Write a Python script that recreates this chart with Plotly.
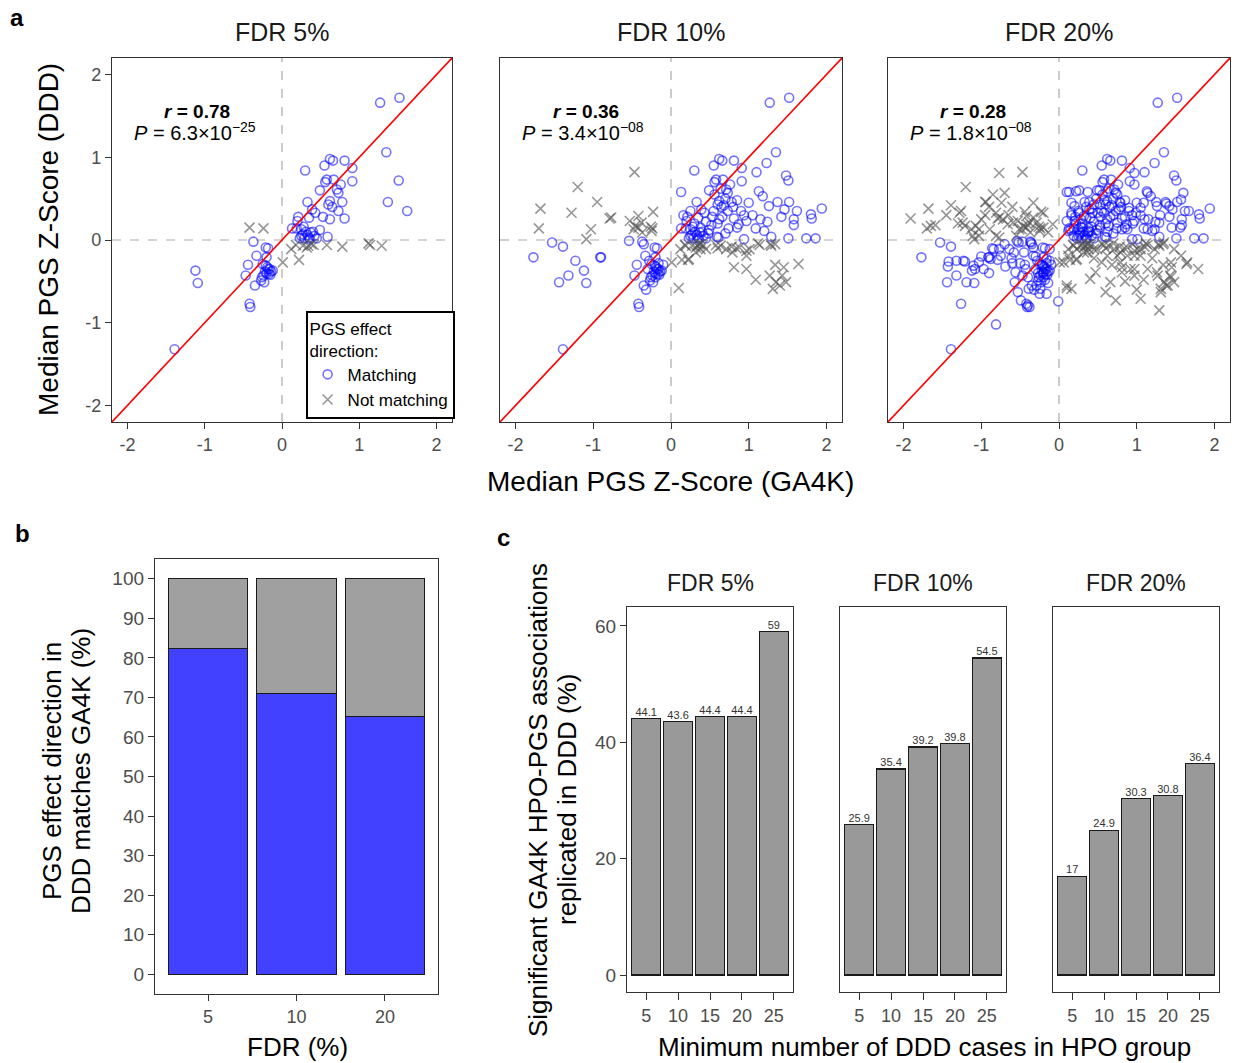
import plotly.graph_objects as go

# ---------------- DATA ----------------
FDR_LABELS = ["FDR 5%", "FDR 10%", "FDR 20%"]
R_VALUES = ["0.78", "0.36", "0.28"]
P_MANTISSA = ["6.3", "3.4", "1.8"]
P_EXPONENT = ["−25", "−08", "−08"]

# (GA4K median Z, DDD median Z) -- associations significant at FDR 5%
MATCH_5 = [
    (1.27, 1.66), (1.52, 1.72), (1.35, 1.06), (1.51, 0.72), (1.37, 0.46), (1.62, 0.35),
    (0.30, 0.84), (0.55, 0.90), (0.62, 0.98), (0.66, 0.96), (0.81, 0.96), (0.91, 0.87),
    (0.58, 0.73), (0.67, 0.73), (0.56, 0.70), (0.76, 0.67), (0.91, 0.71), (0.49, 0.60),
    (0.71, 0.61), (0.73, 0.57), (0.33, 0.46), (0.62, 0.47), (0.78, 0.46), (0.60, 0.43),
    (0.65, 0.40), (0.39, 0.37), (0.73, 0.35), (0.43, 0.33), (0.53, 0.28), (0.62, 0.25),
    (0.81, 0.26), (0.35, 0.27), (0.21, 0.28), (0.20, 0.23), (0.19, 0.14), (0.13, 0.14),
    (0.25, 0.13), (0.49, 0.12), (0.40, 0.10), (0.31, 0.10), (0.25, 0.05), (0.35, 0.03),
    (0.59, 0.04), (0.23, 0.02), (0.29, 0.02), (0.36, 0.01), (0.45, 0.02), (0.37, 0.09),
    (0.27, 0.07), (0.33, 0.06), (0.28, 0.16), (0.42, 0.05),
    (-0.37, -0.02), (-0.21, -0.09), (-0.18, -0.10), (-0.33, -0.19), (-0.20, -0.21),
    (-0.44, -0.30), (-0.25, -0.29), (-0.18, -0.35), (-0.14, -0.38), (-0.20, -0.40),
    (-0.24, -0.43), (-0.27, -0.49), (-0.35, -0.55), (-0.23, -0.51), (-0.47, -0.43),
    (-1.12, -0.37), (-1.09, -0.52), (-0.42, -0.77), (-0.41, -0.81), (-1.39, -1.32),
    (-0.16, -0.35), (-0.21, -0.31), (-0.17, -0.41), (-0.12, -0.37),
    (-0.19, -0.33), (-0.22, -0.38), (-0.15, -0.42), (-0.26, -0.45),
]
NOT_5 = [
    (-0.42, 0.15), (-0.24, 0.14), (0.01, -0.27), (0.22, -0.24), (0.12, -0.11), (0.18, -0.06),
    (0.27, -0.07), (0.34, -0.07), (0.41, -0.06), (0.58, -0.06), (0.78, -0.08), (1.12, -0.04),
    (1.14, -0.06), (1.29, -0.07), (0.32, -0.09), (0.38, -0.05),
]
# additional associations reaching FDR 10%
MATCH_10_ADD = [
    (1.23, 0.93), (1.10, 0.82), (1.48, 0.78), (1.13, 0.59), (1.18, 0.53), (1.26, 0.41),
    (1.52, 0.46), (1.46, 0.37), (1.94, 0.38), (1.80, 0.31), (1.81, 0.26), (1.42, 0.28),
    (1.58, 0.25), (1.58, 0.18), (1.24, 0.22), (1.09, 0.14), (1.20, 0.11), (0.94, 0.30),
    (0.97, 0.23), (0.85, 0.48), (0.87, 0.19), (0.85, 0.15), (0.74, 0.14), (0.94, 0.01),
    (1.29, 0.04), (1.51, 0.02), (1.74, 0.02), (1.86, 0.02), (0.61, 0.03), (0.13, 0.58),
    (0.70, 0.50), (0.68, 0.42), (0.55, 0.35), (0.45, 0.22), (0.52, 0.18), (0.60, 0.20),
    (0.66, 0.28), (0.80, 0.40), (0.90, 0.35), (1.00, 0.45), (0.56, 0.55), (0.64, 0.62),
    (1.05, 0.30), (1.15, 0.25), (0.30, 0.20), (0.38, 0.15), (0.48, 0.08), (0.70, 0.08),
    (0.25, 0.35), (0.16, 0.30),
    (-1.77, -0.21), (-1.53, -0.03), (-1.39, -0.08), (-1.23, -0.25), (-1.32, -0.43),
    (-1.44, -0.51), (-0.91, -0.21), (-0.90, -0.21), (-0.54, -0.01), (-0.35, -0.05),
    (-0.30, -0.35), (-0.28, -0.25), (-0.16, -0.28), (-0.10, -0.30), (-0.20, -0.45), (-0.32, -0.60),
]
NOT_10_ADD = [
    (-0.47, 0.82), (-1.20, 0.64), (-0.95, 0.46), (-1.68, 0.38), (-1.28, 0.33), (-0.79, 0.26),
    (-0.77, 0.27), (-0.42, 0.29), (-0.23, 0.34), (-1.70, 0.14), (-1.03, 0.13), (-1.09, 0.01),
    (-0.46, 0.17), (-0.26, 0.16), (-0.37, 0.09), (-0.25, 0.11), (-0.53, 0.23), (-0.38, 0.21),
    (-0.48, 0.13),
    (0.10, -0.58), (0.23, -0.23), (0.38, -0.11), (0.19, -0.07), (0.45, -0.11), (0.71, -0.11),
    (0.79, -0.15), (0.84, -0.10), (0.88, -0.09), (0.97, -0.13), (1.01, -0.11), (1.28, -0.05),
    (1.34, -0.05), (0.97, -0.19), (0.81, -0.33), (0.97, -0.35), (1.09, -0.48), (1.27, -0.43),
    (1.34, -0.30), (1.45, -0.33), (1.43, -0.43), (1.48, -0.51), (1.31, -0.59), (1.64, -0.29),
    (1.35, -0.51), (1.40, -0.55), (0.36, -0.05), (0.60, -0.10), (0.64, -0.07), (0.32, -0.15),
    (0.14, -0.24),
]
# additional associations reaching FDR 20%
MATCH_20_ADD = [
    (-1.42, -0.26), (-1.43, -0.32), (-1.32, -0.25), (-1.21, -0.26), (-1.10, -0.31), (-1.08, -0.35),
    (-0.97, -0.35), (-1.03, -0.27), (-0.86, -0.10), (-0.84, -0.11), (-0.88, -0.23), (-0.77, -0.11),
    (-0.79, -0.24), (-0.64, -0.11), (-0.61, -0.22), (-0.60, -0.28), (-0.52, -0.03), (-0.47, -0.02),
    (-0.36, -0.03), (-0.33, -0.09), (-0.57, -0.51), (-0.53, -0.63), (-0.49, -0.73), (-0.40, -0.79),
    (-0.38, -0.81), (-0.16, -0.65), (-0.01, -0.74), (-0.81, -1.02), (-1.26, -0.77), (-1.19, -0.51),
    (-0.69, -0.32), (-0.75, -0.19), (-0.56, -0.39), (-0.29, -0.55), (-0.24, -0.59), (-0.20, -0.39),
    (-0.12, -0.11), (-0.16, -0.23), (-0.43, -0.35), (-0.39, -0.59),
    (-0.22, -0.30), (-0.27, -0.40), (-0.18, -0.48), (-0.30, -0.20), (-0.12, -0.25), (-0.45, -0.15),
    (-0.50, -0.28), (-0.40, -0.45), (-0.14, -0.52), (-0.25, -0.65),
    (-0.70, -0.05), (-0.58, -0.15), (-1.00, -0.20), (-0.90, -0.40),
    (0.10, 0.58), (0.22, 0.59), (0.26, 0.60), (0.37, 0.58), (0.52, 0.60), (0.16, 0.45),
    (0.20, 0.41), (0.39, 0.46), (0.45, 0.43), (0.53, 0.43), (0.50, 0.33), (0.58, 0.33),
    (0.62, 0.59), (0.79, 0.45), (0.90, 0.39), (0.99, 0.33), (1.05, 0.39), (1.09, 0.45),
    (1.14, 0.57), (0.97, 0.67), (0.97, 0.81), (1.25, 0.46), (1.38, 0.44), (1.42, 0.41),
    (1.57, 0.49), (1.60, 0.57), (1.67, 0.35), (1.56, 0.15), (1.23, 0.13), (1.14, 0.13),
    (1.01, 0.01), (1.29, 0.21), (1.10, 0.25), (0.81, 0.13), (0.75, 0.21), (0.64, 0.17),
    (0.53, 0.15), (0.38, 0.11), (0.27, 0.09), (0.19, 0.05), (0.12, 0.11), (0.10, 0.23),
    (0.88, 0.13), (0.77, 0.37), (0.40, 0.27), (0.32, 0.29), (0.25, 0.33), (0.16, 0.33),
    (0.42, 0.38), (0.58, 0.48), (0.70, 0.30), (0.30, 0.15), (0.22, 0.20), (0.48, 0.50),
    (0.85, 0.28), (0.95, 0.20), (0.62, 0.10), (0.15, 0.12),
    (0.35, 0.40), (0.75, 0.55), (1.30, 0.30), (1.45, 0.15), (0.42, 0.16), (0.28, 0.25),
]
NOT_20_ADD = [
    (-1.91, 0.26), (-1.65, 0.17), (-1.59, 0.18), (-1.39, 0.42), (-1.26, 0.35), (-1.21, 0.17),
    (-1.13, 0.13), (-1.07, 0.17), (-1.03, 0.05), (-0.94, 0.46), (-0.90, 0.40), (-0.81, 0.33),
    (-0.74, 0.45), (-0.70, 0.57), (-0.77, 0.81), (-0.72, 0.25), (-0.66, 0.19), (-0.59, 0.21),
    (-0.89, 0.13), (-0.81, 0.05), (-0.77, 0.03), (-1.11, 0.05), (-1.24, 0.21), (-1.00, 0.25),
    (-0.44, 0.34), (-0.33, 0.27), (-0.29, 0.21), (-0.20, 0.15), (-0.14, 0.09), (-0.08, 0.19),
    (-0.33, 0.45), (-0.20, 0.33), (-0.51, 0.13),
    (-1.45, 0.30), (-0.60, 0.40), (-0.95, 0.30), (-0.55, 0.05), (-0.40, 0.18), (-1.30, 0.20),
    (-0.85, 0.55), (-0.65, 0.30),
    (0.10, -0.55), (0.16, -0.59), (0.40, -0.47), (0.47, -0.39), (0.60, -0.63), (0.73, -0.73),
    (0.66, -0.51), (0.81, -0.39), (0.92, -0.35), (1.05, -0.71), (1.29, -0.85), (1.31, -0.63),
    (1.38, -0.55), (1.44, -0.45), (1.57, -0.19), (1.79, -0.35), (1.65, -0.27), (1.44, -0.27),
    (1.14, -0.35), (1.05, -0.19), (0.88, -0.19), (0.75, -0.19), (0.62, -0.19), (0.49, -0.11),
    (0.36, -0.15), (0.23, -0.11), (0.12, -0.19), (0.06, -0.27), (0.55, -0.27), (0.79, -0.27),
    (1.05, -0.11), (1.23, -0.11), (1.35, -0.03), (1.48, -0.11), (0.97, -0.43), (1.26, -0.39),
    (0.30, -0.05), (0.55, -0.05), (0.70, -0.04), (0.95, -0.05), (1.10, -0.08), (0.45, -0.22),
    (0.68, -0.30), (1.20, -0.22), (0.85, -0.50), (1.00, -0.60),
]

# panel b
B_FDR = ["5", "10", "20"]
B_MATCHING = [82.3, 70.9, 65.1]
B_NOT_MATCHING = [17.7, 29.1, 34.9]

# panel c
C_MIN_CASES = ["5", "10", "15", "20", "25"]
C_REPLICATED = {
    "FDR 5%": [44.1, 43.6, 44.4, 44.4, 59],
    "FDR 10%": [25.9, 35.4, 39.2, 39.8, 54.5],
    "FDR 20%": [17, 24.9, 30.3, 30.8, 36.4],
}

# ---------------- LAYOUT HELPERS ----------------
W, H = 1235, 1063
FONT = "Liberation Sans, Arial, Helvetica, sans-serif"
AX_RANGE = [-2.2, 2.2]
BLUE_PT = "rgba(0,0,255,0.55)"
GRAY_PT = "rgba(80,80,80,0.6)"


def fx(p):
    return p / W


def fy(p):
    return 1 - p / H


def axis(domain, rng=None, tickfont=18, **kw):
    d = dict(domain=domain, showline=True, mirror=True, linecolor="#333333", linewidth=1.3,
             ticks="outside", ticklen=6, tickwidth=1.3, tickcolor="#333333",
             showgrid=False, zeroline=False, fixedrange=True,
             tickfont=dict(size=tickfont, color="#4d4d4d", family=FONT))
    if rng is not None:
        d["range"] = rng
    d.update(kw)
    return d


def label(text, px, py, size, angle=0, color="black"):
    return dict(xref="paper", yref="paper", x=fx(px), y=fy(py), text=text, showarrow=False,
                xanchor="center", yanchor="middle", textangle=angle,
                font=dict(size=size, color=color))


fig = go.Figure()
layout = dict(width=W, height=H, margin=dict(l=0, r=0, t=0, b=0),
              paper_bgcolor="white", plot_bgcolor="white",
              font=dict(family=FONT, color="#1a1a1a"), barmode="stack",
              showlegend=True)
annotations = []
shapes = []

# ---------------- PANEL a ----------------
panel_x = [(112, 452), (500, 842), (888, 1230)]
panel_y = (58, 422)
cum_match, cum_not = [], []
adds = [(MATCH_5, NOT_5), (MATCH_10_ADD, NOT_10_ADD), (MATCH_20_ADD, NOT_20_ADD)]
ticks = [-2, -1, 0, 1, 2]
tick_txt = ["-2", "-1", "0", "1", "2"]
for i, (madd, nadd) in enumerate(adds):
    cum_match = cum_match + madd
    cum_not = cum_not + nadd
    xs = "" if i == 0 else str(i + 1)
    xa, ya = "x" + xs, "y" + xs
    fig.add_trace(go.Scatter(
        x=[p[0] for p in cum_match], y=[p[1] for p in cum_match], mode="markers",
        name="Matching", legendgroup="m", showlegend=(i == 0),
        marker=dict(symbol="circle-open", size=9, color=BLUE_PT,
                    line=dict(width=1.6, color=BLUE_PT)),
        xaxis=xa, yaxis=ya, hoverinfo="skip"))
    fig.add_trace(go.Scatter(
        x=[p[0] for p in cum_not], y=[p[1] for p in cum_not], mode="markers",
        name="Not matching", legendgroup="n", showlegend=(i == 0),
        marker=dict(symbol="x-thin-open", size=10, color=GRAY_PT,
                    line=dict(width=1.6, color=GRAY_PT)),
        xaxis=xa, yaxis=ya, hoverinfo="skip"))
    layout["xaxis" + xs] = axis([fx(panel_x[i][0]), fx(panel_x[i][1])], AX_RANGE,
                                tickvals=ticks, ticktext=tick_txt, anchor=ya)
    yk = dict(tickvals=ticks, ticktext=tick_txt, anchor=xa)
    if i > 0:
        yk.update(showticklabels=False, ticks="")
    layout["yaxis" + xs] = axis([fy(panel_y[1]), fy(panel_y[0])], AX_RANGE, **yk)
    # reference lines
    dash = dict(color="#aaaaaa", width=1.2, dash="dash")
    shapes.append(dict(type="line", xref=xa, yref=ya + " domain", x0=0, x1=0, y0=0, y1=1,
                       line=dash, layer="below"))
    shapes.append(dict(type="line", xref=xa + " domain", yref=ya, x0=0, x1=1, y0=0, y1=0,
                       line=dash, layer="below"))
    shapes.append(dict(type="line", xref=xa, yref=ya, x0=AX_RANGE[0], y0=AX_RANGE[0],
                       x1=AX_RANGE[1], y1=AX_RANGE[1], line=dict(color="red", width=1.6),
                       layer="above"))
    # stats
    annotations.append(dict(xref=xa, yref=ya, x=-1.1, y=1.55, showarrow=False,
                            xanchor="center", yanchor="middle",
                            text="<b><i>r</i> = %s</b>" % R_VALUES[i],
                            font=dict(size=19, color="black")))
    annotations.append(dict(xref=xa, yref=ya, x=-1.13, y=1.31, showarrow=False,
                            xanchor="center", yanchor="middle",
                            text="<i>P</i> = %s×10<sup>%s</sup>" % (P_MANTISSA[i], P_EXPONENT[i]),
                            font=dict(size=20, color="black")))
    annotations.append(label(FDR_LABELS[i], (panel_x[i][0] + panel_x[i][1]) / 2, 32, 25,
                             color="#1a1a1a"))

annotations.append(label("Median PGS Z-Score (DDD)", 48, 240, 28, angle=-90))
annotations.append(label("Median PGS Z-Score (GA4K)", 670, 482, 28))

layout["legend"] = dict(x=fx(306), y=fy(311), xanchor="left", yanchor="top",
                        bordercolor="black", borderwidth=1.6, bgcolor="white",
                        font=dict(size=17, color="black"),
                        title=dict(text="PGS effect<br>direction:", font=dict(size=17, color="black")),
                        tracegroupgap=0, itemwidth=30)

# ---------------- PANEL b ----------------
fig.add_trace(go.Bar(x=B_FDR, y=B_MATCHING, width=0.9, marker=dict(color="#4141ff",
              line=dict(color="#1a1a1a", width=1.2)), showlegend=False,
              xaxis="x4", yaxis="y4", hoverinfo="skip"))
fig.add_trace(go.Bar(x=B_FDR, y=B_NOT_MATCHING, width=0.9, marker=dict(color="#a0a0a0",
              line=dict(color="#1a1a1a", width=1.2)), showlegend=False,
              xaxis="x4", yaxis="y4", hoverinfo="skip"))
layout["xaxis4"] = axis([fx(155), fx(438)], [-0.6, 2.6], type="category", anchor="y4")
layout["yaxis4"] = axis([fy(994), fy(559)], [-5, 105], tickvals=list(range(0, 101, 10)),
                        anchor="x4", tickfont=19)
annotations.append(label("PGS effect direction in", 52, 771, 26, angle=-90))
annotations.append(label("DDD matches GA4K (%)", 81, 771, 26, angle=-90))
annotations.append(label("FDR (%)", 297, 1047, 26))

# ---------------- PANEL c ----------------
facet_x = [(627, 793), (840, 1006), (1053, 1219)]
for j, lab in enumerate(FDR_LABELS):
    n = 5 + j
    xa, ya = "x%d" % n, "y%d" % n
    vals = C_REPLICATED[lab]
    fig.add_trace(go.Bar(x=C_MIN_CASES, y=vals, width=0.9, marker=dict(color="#999999",
                  line=dict(color="#1a1a1a", width=1.2)), showlegend=False,
                  xaxis=xa, yaxis=ya, hoverinfo="skip"))
    fig.add_trace(go.Scatter(x=C_MIN_CASES, y=vals, mode="text",
                             text=[("%g" % v) for v in vals], textposition="top center",
                             textfont=dict(size=11, color="#333333"), showlegend=False,
                             xaxis=xa, yaxis=ya, hoverinfo="skip"))
    layout["xaxis%d" % n] = axis([fx(facet_x[j][0]), fx(facet_x[j][1])], [-0.6, 4.6],
                                 tickfont=18, type="category", anchor=ya, ticklen=7)
    yk = dict(tickvals=[0, 20, 40, 60], anchor=xa)
    if j > 0:
        yk.update(showticklabels=False, ticks="")
    layout["yaxis%d" % n] = axis([fy(992), fy(607)], [-2.92, 63.26], tickfont=19, **yk)
    annotations.append(label(lab, (facet_x[j][0] + facet_x[j][1]) / 2, 583, 23, color="#1a1a1a"))

annotations.append(label("Significant GA4K HPO-PGS associations", 538, 800, 26, angle=-90))
annotations.append(label("replicated in DDD (%)", 567, 800, 26, angle=-90))
annotations.append(label("Minimum number of DDD cases in HPO group", 924, 1047, 26))

# panel letters
for letter, (lx, ly) in zip(["a", "b", "c"], [(17, 18), (22, 533), (503, 537)]):
    annotations.append(label("<b>%s</b>" % letter, lx, ly, 24))

layout["annotations"] = annotations
layout["shapes"] = shapes
fig.update_layout(**layout)
fig.write_html("out.html", config={"displayModeBar": False},
               post_script="document.body.style.margin='0';")
